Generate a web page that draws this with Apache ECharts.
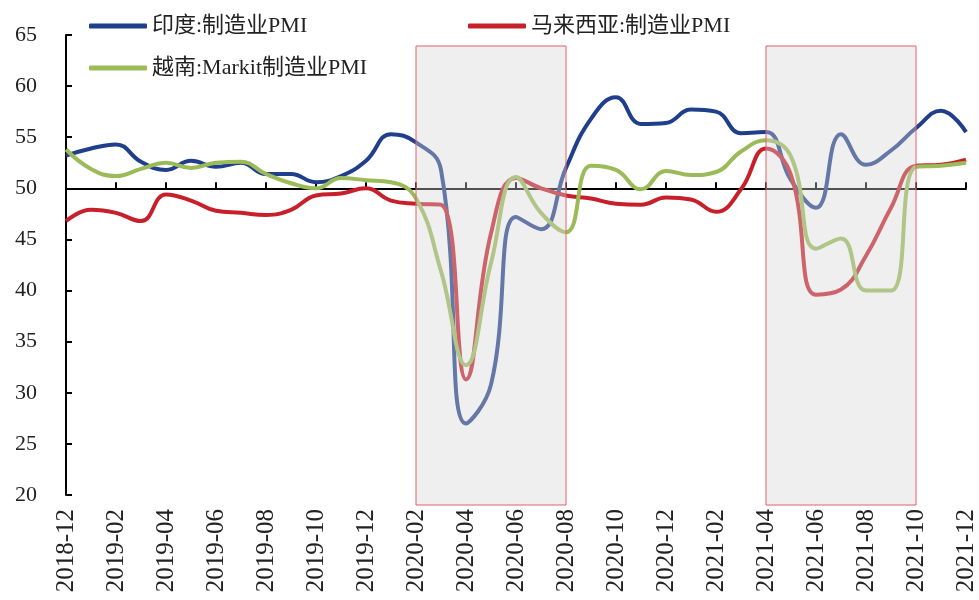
<!DOCTYPE html>
<html>
<head>
<meta charset="utf-8">
<script src="https://cdn.jsdelivr.net/npm/echarts@6/dist/echarts.min.js"></script>
<style>
  html, body { margin: 0; padding: 0; background: #fff; }
  #chart { width: 979px; height: 600px; }
</style>
</head>
<body>
<div id="chart"></div>
<script>
// Monthly manufacturing PMI, 2018-12 .. 2021-12
const months = [
  '2018-12','2019-01','2019-02','2019-03','2019-04','2019-05','2019-06','2019-07','2019-08','2019-09','2019-10','2019-11',
  '2019-12','2020-01','2020-02','2020-03','2020-04','2020-05','2020-06','2020-07','2020-08','2020-09','2020-10','2020-11',
  '2020-12','2021-01','2021-02','2021-03','2021-04','2021-05','2021-06','2021-07','2021-08','2021-09','2021-10','2021-11',
  '2021-12'
];
const india = [53.2, 53.9, 54.3, 52.6, 51.8, 52.7, 52.1, 52.5, 51.4, 51.4, 50.6, 51.2,
               52.7, 55.3, 54.5, 51.8, 27.0, 30.8, 47.2, 46.0, 52.0, 56.8, 58.9, 56.3,
               56.4, 57.7, 57.5, 55.4, 55.5, 50.8, 48.1, 55.3, 52.3, 53.7, 55.9, 57.6,
               55.5];
const malaysia = [46.8, 47.9, 47.6, 46.8, 49.4, 48.8, 47.8, 47.6, 47.4, 47.9, 49.3, 49.5,
                  50.0, 48.8, 48.5, 48.4, 31.3, 45.6, 51.0, 50.0, 49.3, 49.0, 48.5, 48.4,
                  49.1, 48.9, 47.7, 49.9, 53.9, 51.3, 39.6, 40.1, 43.4, 48.1, 52.2, 52.3,
                  52.8];
const vietnam = [53.8, 51.9, 51.2, 51.9, 52.5, 52.0, 52.5, 52.6, 51.4, 50.5, 50.0, 51.0,
                 50.8, 50.6, 49.0, 41.9, 32.7, 42.7, 51.1, 47.6, 45.7, 52.2, 51.8, 49.9,
                 51.7, 51.3, 51.6, 53.6, 54.7, 53.1, 44.1, 45.1, 40.0, 40.0, 52.1, 52.2,
                 52.5];
const seriesNames = ['印度:制造业PMI', '马来西亚:制造业PMI', '越南:Markit制造业PMI'];
// Highlighted periods (start month, end month)
const shadedPeriods = [['2020-02', '2020-08'], ['2021-04', '2021-10']];
const yMin = 20, yMax = 65, yStep = 5;
const baseline = 50;

const FONT = "'Liberation Serif', 'Noto Sans CJK SC', serif";
const colors = ['#1f3e8c', '#c8202a', '#9bbb59'];

// plot area (pixels)
const G = { left: 66, right: 13, top: 35, bottom: 105 };
const plotH = 600 - G.top - G.bottom;

const chart = echarts.init(document.getElementById('chart'));

function legendAt(name, left, top) {
  return {
    data: [name], left: left, top: top,
    icon: 'roundRect', itemWidth: 58, itemHeight: 5, itemGap: 7,
    textStyle: { fontFamily: FONT, fontSize: 22, color: '#222' }
  };
}

const lineSeries = [india, malaysia, vietnam].map((d, i) => ({
  name: seriesNames[i],
  type: 'line',
  xAxisIndex: 0, yAxisIndex: 0,
  data: d,
  smooth: 0.45,
  symbol: 'none',
  z: 3,
  lineStyle: { width: 4, color: colors[i] },
  itemStyle: { color: colors[i] }
}));

chart.setOption({
  animation: false,
  backgroundColor: '#fff',
  legend: [
    legendAt(seriesNames[0], 84, 10),
    legendAt(seriesNames[1], 463, 10),
    legendAt(seriesNames[2], 84, 52)
  ],
  grid: [
    { left: G.left, right: G.right, top: G.top, bottom: G.bottom, containLabel: false },
    // slightly taller band used for the highlighted periods
    { left: G.left, right: G.right, top: 46, bottom: 95, containLabel: false }
  ],
  xAxis: [
    {
      gridIndex: 0, type: 'category', data: months, boundaryGap: false, position: 'bottom',
      axisLine: { show: false }, axisTick: { show: false },
      axisLabel: {
        interval: 1, rotate: 90, margin: 14,
        fontFamily: FONT, fontSize: 25, color: '#222'
      }
    },
    {
      // baseline axis drawn through the 50 level
      gridIndex: 0, type: 'category', data: months, boundaryGap: false, position: 'bottom',
      offset: -(baseline - yMin) * (plotH / (yMax - yMin)),
      axisLine: { show: true, lineStyle: { color: '#000', width: 2 } },
      axisTick: { show: true, inside: true, interval: 1, length: 6, lineStyle: { color: '#000', width: 2 } },
      axisLabel: { show: false }
    },
    {
      gridIndex: 1, type: 'category', data: months, boundaryGap: false,
      show: false
    }
  ],
  yAxis: [
    {
      gridIndex: 0, type: 'value', min: yMin, max: yMax, interval: yStep,
      axisLine: { show: true, lineStyle: { color: '#000', width: 2 } },
      axisTick: { show: true, inside: true, length: 6, lineStyle: { color: '#000', width: 2 } },
      splitLine: { show: false },
      axisLabel: { margin: 29, fontFamily: FONT, fontSize: 22, color: '#222' }
    },
    { gridIndex: 1, type: 'value', min: 0, max: 1, show: false }
  ],
  series: lineSeries.concat([{
    name: 'shade',
    type: 'line',
    xAxisIndex: 2, yAxisIndex: 1,
    data: [],
    z: 10,
    markArea: {
      silent: true,
      z: 10,
      itemStyle: {
        color: 'rgba(212,212,212,0.38)',
        borderColor: '#e0606a',
        borderWidth: 1
      },
      data: shadedPeriods.map(p => [{ xAxis: p[0] }, { xAxis: p[1] }])
    }
  }])
});
</script>
</body>
</html>
